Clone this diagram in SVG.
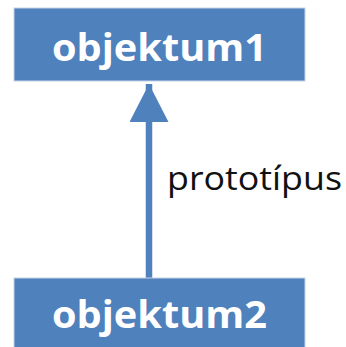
<svg xmlns="http://www.w3.org/2000/svg" width="346" height="347" viewBox="0 0 346 347">
<style>
.box{fill:#4F81BD;stroke:#C6D4E8;stroke-width:1}
.lbl{font-family:"Open Sans","Liberation Sans",sans-serif;font-weight:bold;font-size:38px;fill:#fff}
.edge{font-family:"Open Sans","Liberation Sans",sans-serif;font-size:33px;fill:#111}
</style>
<defs>
<marker id="ah" markerUnits="userSpaceOnUse" markerWidth="40" markerHeight="40" refX="38" refY="19.5" orient="auto">
<path d="M0,0 L38,19.5 L0,39 Z" fill="#4F81BD"/>
</marker>
</defs>
<rect width="346" height="347" fill="#fff"/>
<g id="connectors">
<line x1="149" y1="278" x2="149" y2="84" stroke="#4F81BD" stroke-width="6.5" marker-end="url(#ah)"/>
<text class="edge" x="167" y="190" textLength="175" lengthAdjust="spacingAndGlyphs">prototípus</text>
</g>
<g id="objektum1">
<rect class="box" x="14" y="8" width="291" height="73"/>
<text class="lbl" x="52" y="61" textLength="215" lengthAdjust="spacingAndGlyphs">objektum1</text>
</g>
<g id="objektum2">
<rect class="box" x="14" y="278" width="291" height="75"/>
<text class="lbl" x="52" y="328" textLength="215" lengthAdjust="spacingAndGlyphs">objektum2</text>
</g>
</svg>
